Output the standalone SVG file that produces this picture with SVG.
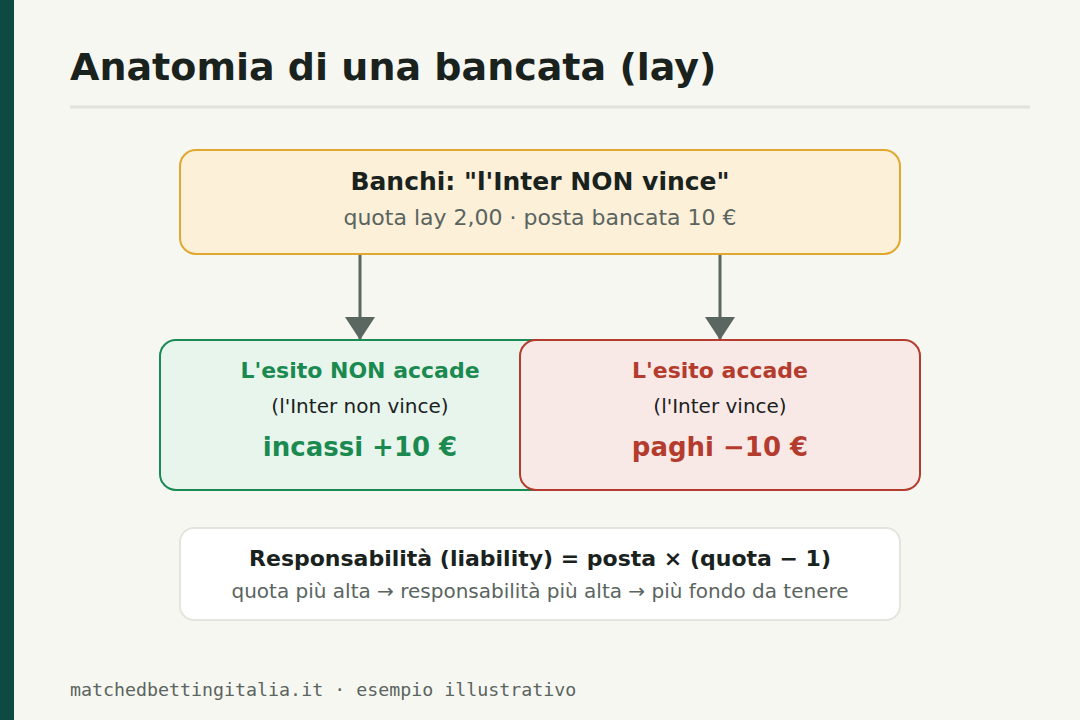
<svg xmlns="http://www.w3.org/2000/svg" width="1080" height="720" viewBox="0 0 1080 720">
<style>
text{font-family:"DejaVu Sans","Liberation Sans",sans-serif}
.title{font-size:38px;font-weight:bold;fill:#1a221e}
.h{font-size:25px;font-weight:bold;fill:#1a221e;text-anchor:middle}
.sub{font-size:22px;fill:#5a6460;text-anchor:middle}
.lbl{font-size:22px;font-weight:bold;text-anchor:middle}
.mid{font-size:20px;fill:#1a221e;text-anchor:middle}
.big{font-size:26px;font-weight:bold;text-anchor:middle}
.g{fill:#1a8a50}
.r{fill:#b43c2e}
.conn{stroke:#5a6660;stroke-width:3;fill:none}
.foot{font-family:"DejaVu Sans Mono","Liberation Mono",monospace;font-size:18.3px;fill:#5a6460}
</style>
<defs>
<marker id="ah" markerUnits="userSpaceOnUse" markerWidth="24" markerHeight="30" refX="23" refY="15" orient="auto" viewBox="0 0 24 30">
<path d="M0,0 L23,15 L0,30 Z" fill="#5a6660"/>
</marker>
</defs>
<rect width="1080" height="720" fill="#f7f7f2"/>
<rect x="0" y="0" width="14" height="720" fill="#0d4a42"/>
<text class="title" x="70" y="80">Anatomia di una bancata (lay)</text>
<line x1="70" y1="107" x2="1030" y2="107" stroke="#e2e2dc" stroke-width="3"/>
<g id="connectors">
<line class="conn" x1="360" y1="254" x2="360" y2="340" marker-end="url(#ah)"/>
<line class="conn" x1="720" y1="254" x2="720" y2="340" marker-end="url(#ah)"/>
</g>
<g id="lay">
<rect x="180" y="150" width="720" height="104" rx="16" fill="#fcf0d8" stroke="#e0a82e" stroke-width="2"/>
<text class="h" x="540" y="190">Banchi: "l'Inter NON vince"</text>
<text class="sub" x="540" y="225">quota lay 2,00 · posta bancata 10 €</text>
</g>
<g id="non-accade">
<rect x="160" y="340" width="400" height="150" rx="16" fill="#e8f5ec" stroke="#1a8a55" stroke-width="2"/>
<text class="lbl g" x="360" y="378">L'esito NON accade</text>
<text class="mid" x="360" y="413">(l'Inter non vince)</text>
<text class="big g" x="360" y="456">incassi +10 €</text>
</g>
<g id="accade">
<rect x="520" y="340" width="400" height="150" rx="16" fill="#f9e9e6" stroke="#b43c2e" stroke-width="2"/>
<text class="lbl r" x="720" y="378">L'esito accade</text>
<text class="mid" x="720" y="413">(l'Inter vince)</text>
<text class="big r" x="720" y="456">paghi −10 €</text>
</g>
<g id="liability">
<rect x="180" y="528" width="720" height="92" rx="14" fill="#ffffff" stroke="#e4e4de" stroke-width="2"/>
<text class="h" x="540" y="566" style="font-size:22px">Responsabilità (liability) = posta × (quota − 1)</text>
<text class="sub" x="540" y="598" style="font-size:20px">quota più alta → responsabilità più alta → più fondo da tenere</text>
</g>
<text class="foot" x="70" y="696">matchedbettingitalia.it · esempio illustrativo</text>
</svg>
